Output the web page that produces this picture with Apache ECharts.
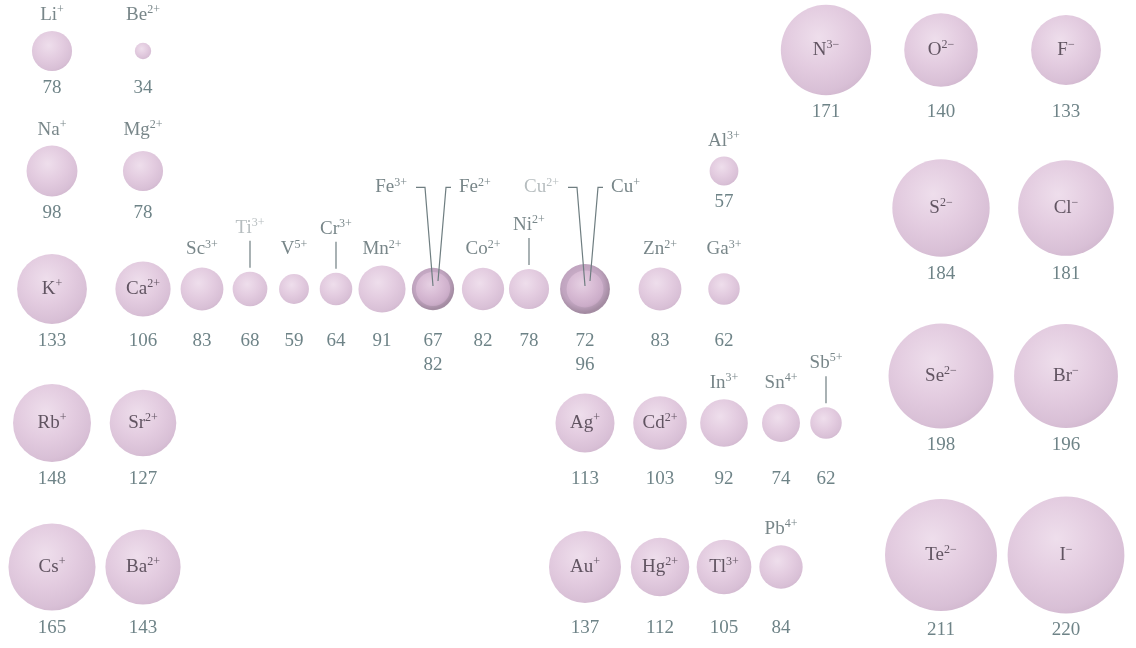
<!DOCTYPE html>
<html><head><meta charset="utf-8">
<script src="https://cdn.jsdelivr.net/npm/echarts@6/dist/echarts.min.js"></script>
<style>html,body{margin:0;padding:0;background:#fff}#c{width:1136px;height:648px}</style>
</head><body><div id="c"></div>
<script>
// ---------------- DATA ----------------
const ionSymbols = ['Li','Be','Na','Mg','Al','K','Ca','Sc','Ti','V','Cr','Mn','Fe','Fe','Co','Ni','Cu','Cu','Zn','Ga',
  'Rb','Sr','Ag','Cd','In','Sn','Sb','Cs','Ba','Au','Hg','Tl','Pb','N','O','F','S','Cl','Se','Br','Te','I'];
const ionCharges = ['+','2+','+','2+','3+','+','2+','3+','3+','5+','3+','2+','3+','2+','2+','2+','2+','+','2+','3+',
  '+','2+','+','2+','3+','4+','5+','+','2+','+','2+','3+','4+','3−','2−','−','2−','−','2−','−','2−','−'];
const ionRadii = [78,34,98,78,57,133,106,83,68,59,64,91,67,82,82,78,72,96,83,62,
  148,127,113,103,92,74,62,165,143,137,112,105,84,171,140,133,184,181,198,196,211,220];
const ionGroup = [1,2,1,2,13,1,2,3,4,5,6,7,8,8,9,10,11,11,12,13,
  1,2,11,12,13,14,15,1,2,11,12,13,14,15,16,17,16,17,16,17,16,17];
const ionPeriod = [2,2,3,3,3,4,4,4,4,4,4,4,4,4,4,4,4,4,4,4,
  5,5,5,5,5,5,5,6,6,6,6,6,6,2,2,2,3,3,4,4,5,5];

// ---------------- LAYOUT (column / row placement of the table) ----------------
const LAYOUT = {
  cationColX: {1:52,2:143,3:202,4:250,5:294,6:336,7:382,8:433,9:483,10:529,11:585,12:660,13:724,14:781,15:826},
  cationRowY: {2:51,3:171,4:289,5:423,6:567},
  anionColX: {15:826,16:941,17:1066},
  anionRowY: {2:50,3:208,4:376,5:555}
};
const rPx = v => 0.27 * v - 1;           // drawn radius (px) per pm
const FONT = 'Liberation Serif, Times New Roman, serif';
const C_LABEL = '#56686c', C_INSIDE = '#3f3340', C_DIM = '#a4adaf', C_NUM = '#4a6469', C_LINE = '#6f7e81';

// ---------------- BUILD ----------------
const ions = ionSymbols.map((s, i) => {
  const anion = ionCharges[i].indexOf('−') >= 0;
  const o = {i, sym: s, charge: ionCharges[i], r: ionRadii[i], g: ionGroup[i], p: ionPeriod[i], anion};
  o.x = anion ? LAYOUT.anionColX[o.g] : LAYOUT.cationColX[o.g];
  o.y = anion ? LAYOUT.anionRowY[o.p] : LAYOUT.cationRowY[o.p];
  o.rp = rPx(o.r);
  return o;
});
const byPos = {};
ions.forEach(o => { const k = o.x + ',' + o.y; (byPos[k] = byPos[k] || []).push(o); o.mates = byPos[k]; });
ions.forEach(o => {
  if (o.mates.length > 1) {
    o.mode = 'side';
    const minR = Math.min(...o.mates.map(m => m.r));
    o.side = o.r === minR ? 'left' : 'right';
  } else if (o.r > 100) o.mode = 'inside';
  else o.mode = 'above';
});
const rows = {};
ions.forEach(o => { const k = (o.anion ? 'a' : 'c') + o.p; (rows[k] = rows[k] || []).push(o); });
Object.values(rows).forEach(list => {
  list.sort((a, b) => a.x - b.x || a.r - b.r);
  const clusters = []; let cur = [list[0]];
  for (let k = 1; k < list.length; k++) {
    if (list[k].g - cur[cur.length - 1].g >= 10) { clusters.push(cur); cur = [list[k]]; } else cur.push(list[k]);
  }
  clusters.push(cur);
  clusters.forEach(cl => {
    let prev = null;
    cl.forEach(o => {
      if (prev && prev.x === o.x) return;
      if (o.mode === 'above' && prev && prev.mode === 'above' && o.x - prev.x < 50) o.mode = 'leader';
      prev = o;
    });
    const rowY = cl[0].y;
    const maxR = Math.max(...cl.map(o => o.rp));
    const ab = cl.filter(o => o.mode === 'above');
    const aboveR = ab.length ? Math.max(...ab.map(o => o.rp)) : maxR;
    const aboveY = rowY - aboveR - 16;
    cl.forEach(o => {
      o.numY = rowY + maxR + 17;
      o.aboveY = aboveY;
      o.sideY = aboveY - 62;
      o.leaderY = o.y - o.rp - 44;
    });
  });
});

function rich(o) { return '{n|' + o.sym + '}{s|' + o.charge + '}'; }
function richStyle(color) {
  return {
    n: {fontFamily: FONT, fontSize: 19, color, lineHeight: 24},
    s: {fontFamily: FONT, fontSize: 12, color, lineHeight: 14, verticalAlign: 'top', padding: [1, 0, 0, 0]}
  };
}
function sphereColor(o) {
  const shared = o.mates.length > 1 && o.r === Math.max(...o.mates.map(m => m.r));
  if (shared) return {type: 'radial', x: 0.45, y: 0.42, r: 0.55, colorStops: [
    {offset: 0, color: '#c9a8c6'}, {offset: 0.75, color: '#b08daf'}, {offset: 1, color: '#8d6f8b'}]};
  return {type: 'radial', x: 0.42, y: 0.36, r: 0.7, colorStops: [
    {offset: 0, color: '#ead6e7'}, {offset: 0.5, color: '#dcbfd8'}, {offset: 0.85, color: '#cfb0cc'}, {offset: 1, color: '#c4a4c1'}]};
}
const dimmed = {'Ti3+': 1, 'Cu2+': 1};

const sphereData = ions.slice().sort((a, b) => b.r - a.r).map(o => {
  const key = o.sym + o.charge;
  let label;
  if (o.mode === 'inside') {
    label = {show: true, position: 'inside', formatter: rich(o), rich: richStyle(C_INSIDE)};
  } else {
    const col = dimmed[key] ? C_DIM : C_LABEL;
    let offY, offX = 0, align = 'center';
    if (o.mode === 'above') offY = o.aboveY - o.y;
    else if (o.mode === 'leader') offY = o.leaderY - o.y;
    else { offY = o.sideY - o.y; offX = o.side === 'left' ? -26 : 26; align = o.side === 'left' ? 'right' : 'left'; }
    label = {show: true, position: 'inside', offset: [offX, offY], align, formatter: rich(o), rich: richStyle(col)};
  }
  return {name: key, value: [o.x, o.y], symbolSize: 2 * o.rp, itemStyle: {color: sphereColor(o)}, label};
});

const numData = [];
Object.values(byPos).forEach(m => {
  const s = m.slice().sort((a, b) => a.r - b.r);
  numData.push({value: [s[0].x, s[0].numY - 12], label: {formatter: s.map(o => o.r).join('\n')}});
});

const lineData = [];
ions.forEach(o => {
  if (o.mode === 'leader') {
    lineData.push({coords: [[o.x, o.leaderY + 13], [o.x, o.y - o.rp - 4]]});
  } else if (o.mode === 'side') {
    if (o.side === 'left') lineData.push({coords: [[o.x - 17, o.sideY], [o.x - 8, o.sideY], [o.x, o.y - 3]]});
    else lineData.push({coords: [[o.x + 18, o.sideY], [o.x + 13, o.sideY], [o.x + 5, o.y - 8]]});
  }
});

const chart = echarts.init(document.getElementById('c'), null, {renderer: 'canvas'});
chart.setOption({
  backgroundColor: '#ffffff',
  animation: false,
  grid: {left: 0, right: 0, top: 0, bottom: 0},
  xAxis: {type: 'value', min: 0, max: 1136, show: false},
  yAxis: {type: 'value', min: 0, max: 648, inverse: true, show: false},
  series: [
    {type: 'scatter', symbol: 'circle', clip: false, silent: true, z: 2, data: sphereData},
    {type: 'lines', coordinateSystem: 'cartesian2d', polyline: true, silent: true, z: 3,
      lineStyle: {color: C_LINE, width: 1.2, opacity: 1}, data: lineData},
    {type: 'scatter', symbolSize: 1, clip: false, silent: true, z: 4, itemStyle: {color: 'rgba(0,0,0,0)'},
      label: {show: true, position: 'inside', verticalAlign: 'top', fontFamily: FONT, fontSize: 19,
        lineHeight: 24, color: C_NUM}, data: numData}
  ]
});
</script></body></html>
